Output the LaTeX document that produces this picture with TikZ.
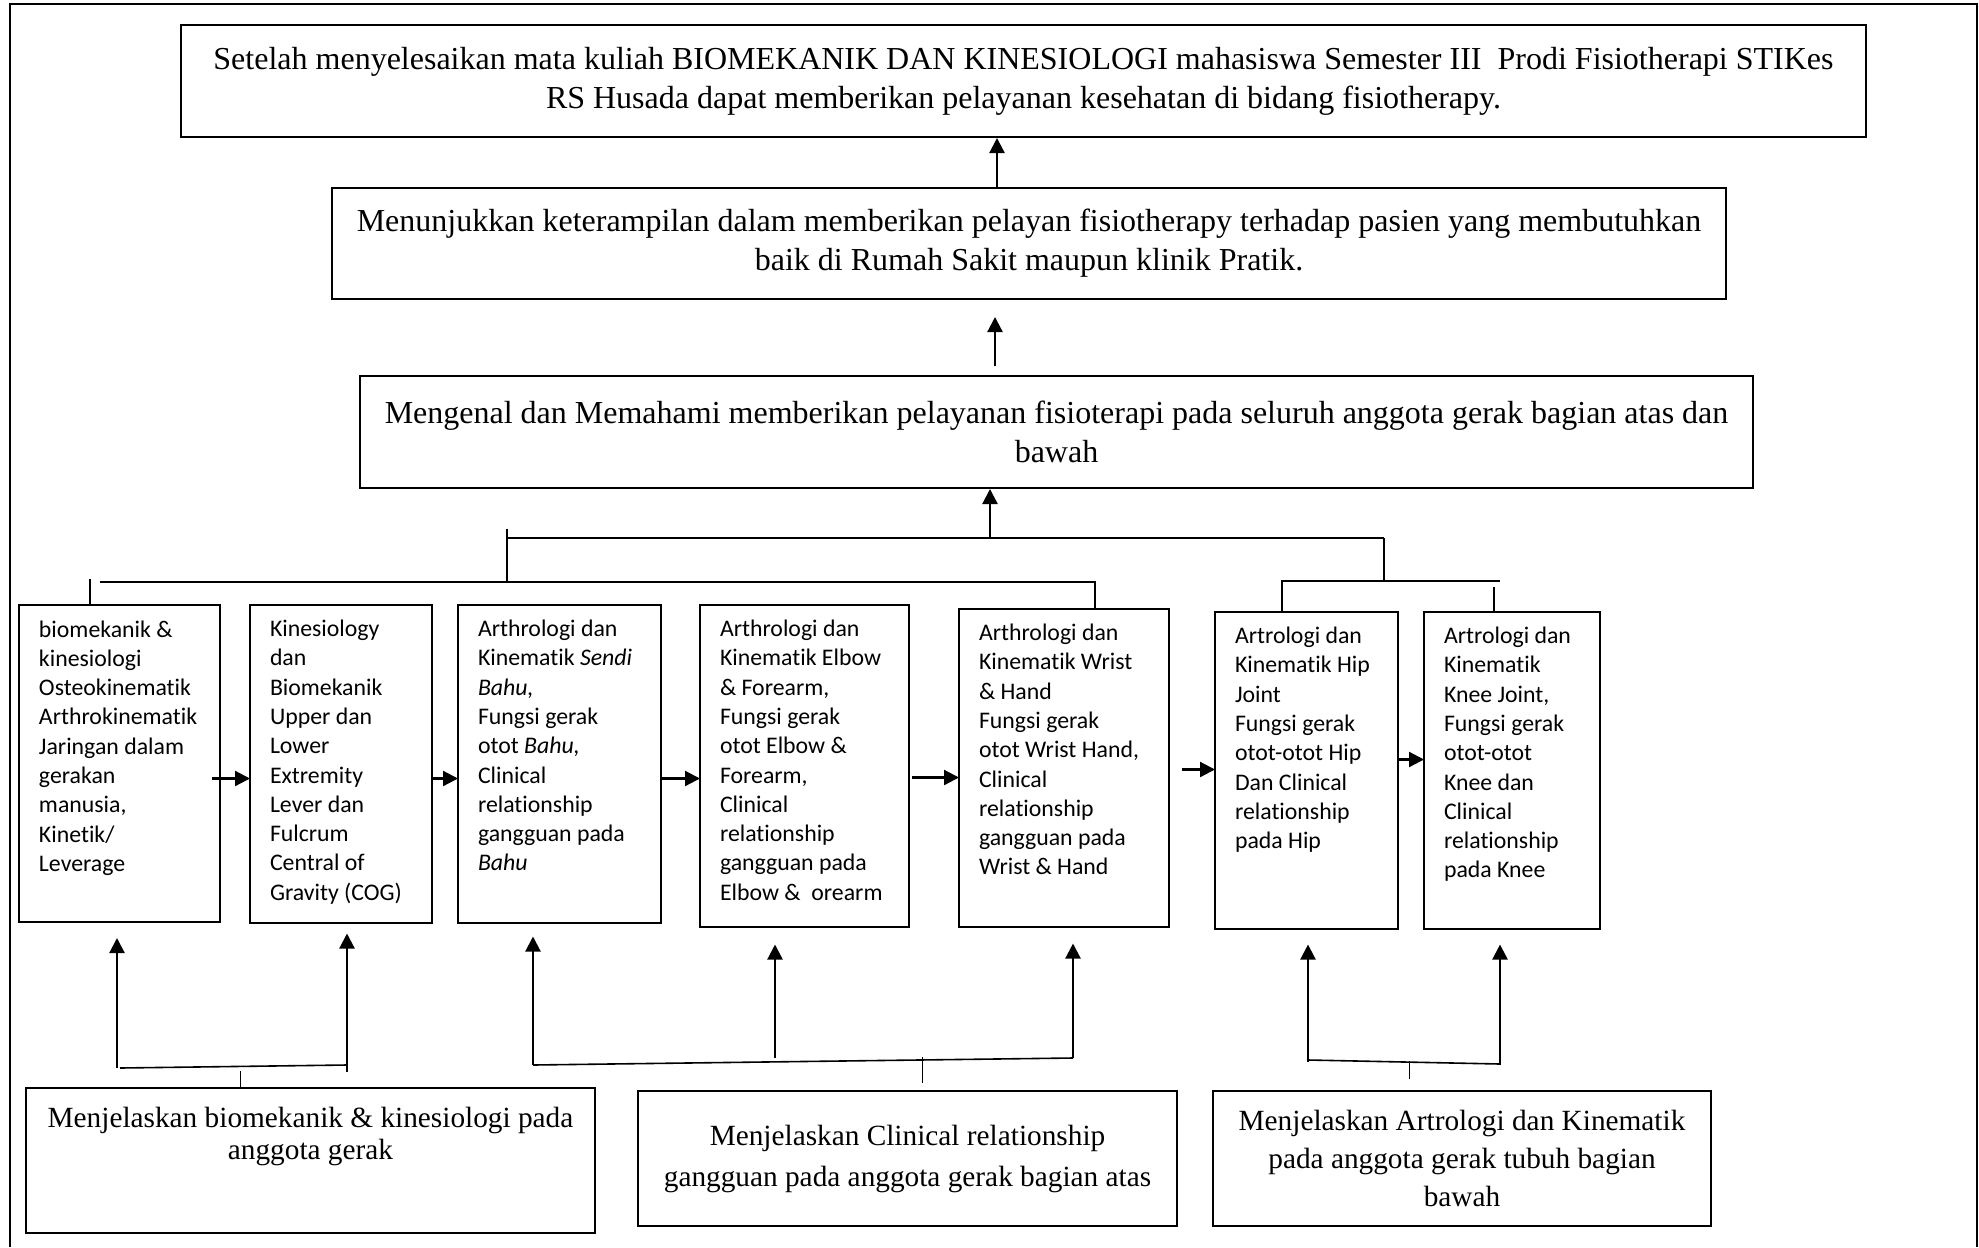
\documentclass[tikz,border=0pt]{standalone}
\usepackage{fontspec}
\setmainfont{Liberation Serif}
\newfontfamily\calibri[Ligatures=NoCommon]{Carlito}
\usepackage{tikz}
\usetikzlibrary{positioning, calc, arrows.meta}

\newcommand{\isimateri}[3]{\parbox[c][#1][t]{#2}{\raggedright\rule{0pt}{16pt}#3}}

\begin{document}
\begin{tikzpicture}[x=0.5pt, y=-0.5pt]

\tikzstyle{tujuan} = [draw, line width=1pt, inner sep=0pt, align=center, font=\fontsize{16}{19.5}\selectfont]
\tikzstyle{materi} = [draw, line width=1pt, outer sep=0pt, inner xsep=10pt, inner ysep=0pt, font=\calibri\fontsize{11.9}{14.65}\selectfont]
\tikzstyle{capaian} = [draw, line width=1pt, inner sep=0pt, align=center, font=\fontsize{14.65}{19}\selectfont]
\tikzstyle{arrow} = [line width=1.1pt, -{Triangle[length=7.5pt, width=7.5pt]}]
\tikzstyle{garis} = [line width=0.65pt]
\tikzstyle{kurung} = [line width=0.8pt]
\tikzstyle{tangkai} = [line width=0.5pt]

\useasboundingbox (0,0) rectangle (1979,1247);

% Bingkai halaman
\draw[line width=1.2pt] (10,1247) -- (10,4) -- (1977,4) -- (1977,1247);

% Kotak tujuan
\node (t1) [tujuan, minimum width=842.5pt, minimum height=56pt] at (1023.5,81) {Setelah menyelesaikan mata kuliah BIOMEKANIK DAN KINESIOLOGI mahasiswa Semester III \ Prodi Fisiotherapi STIKes\\RS Husada dapat memberikan pelayanan kesehatan di bidang fisiotherapy.};
\node (t2) [tujuan, minimum width=697pt, minimum height=55.5pt, below=24.5pt of t1, xshift=2.75pt] {Menunjukkan keterampilan dalam memberikan pelayan fisiotherapy terhadap pasien yang membutuhkan\\baik di Rumah Sakit maupun klinik Pratik.};
\node (t3) [tujuan, minimum width=696.5pt, minimum height=56pt, below=37.5pt of t2, xshift=13.75pt] {Mengenal dan Memahami memberikan pelayanan fisioterapi pada seluruh anggota gerak bagian atas dan\\bawah};

% Kotak materi
\node (b1) [materi, anchor=north west] at (19,605) {\isimateri{158.5pt}{80.5pt}{biomekanik \&\\kinesiologi\\Osteokinematik\\Arthrokinematik\\Jaringan dalam\\gerakan\\manusia,\\Kinetik/\\Leverage}};
\node (b2) [materi, right=15pt of b1] {\isimateri{159pt}{71pt}{Kinesiology\\dan\\Biomekanik\\Upper dan\\Lower\\Extremity\\Lever dan\\Fulcrum\\Central of\\Gravity (COG)}};
\node (b3) [materi, right=13pt of b2] {\isimateri{159pt}{81.5pt}{Arthrologi dan\\Kinematik \textit{Sendi}\\\textit{Bahu,}\\Fungsi gerak\\otot \textit{Bahu,}\\Clinical\\relationship\\gangguan pada\\\textit{Bahu}}};
\node (b4) [materi, right=19.5pt of b3, yshift=-1pt] {\isimateri{161pt}{84.5pt}{Arthrologi dan\\Kinematik Elbow\\\& Forearm,\\Fungsi gerak\\otot Elbow \&\\Forearm,\\Clinical\\relationship\\gangguan pada\\Elbow \& \ orearm}};
\node (b5) [materi, right=25pt of b4, yshift=-1pt] {\isimateri{159pt}{85pt}{Arthrologi dan\\Kinematik Wrist\\\& Hand\\Fungsi gerak\\otot Wrist Hand,\\Clinical\\relationship\\gangguan pada\\Wrist \& Hand}};
\node (b6) [materi, right=23pt of b5, yshift=-1.25pt] {\isimateri{158.5pt}{71.5pt}{Artrologi dan\\Kinematik Hip\\Joint\\Fungsi gerak\\otot-otot Hip\\Dan Clinical\\relationship\\pada Hip}};
\node (b7) [materi, right=13pt of b6] {\isimateri{158.5pt}{68pt}{Artrologi dan\\Kinematik\\Knee Joint,\\Fungsi gerak\\otot-otot\\Knee dan\\Clinical\\relationship\\pada Knee}};

% Kotak capaian
\node (ca) [capaian, minimum width=284.5pt, minimum height=72.5pt, font=\fontsize{14.65}{16}\selectfont] at (310.5,1160.5) {\parbox[c][72.5pt][t]{280pt}{\centering\rule{0pt}{19.5pt}Menjelaskan biomekanik \& kinesiologi pada\\anggota gerak}};
\node (cb) [capaian, minimum width=269.5pt, minimum height=67.5pt, font=\fontsize{14.65}{20.5}\selectfont, right=20.5pt of ca, yshift=1pt] {Menjelaskan Clinical relationship\\gangguan pada anggota gerak bagian atas};
\node (cc) [capaian, minimum width=249pt, minimum height=67.5pt, right=17pt of cb] {Menjelaskan Artrologi dan Kinematik\\pada anggota gerak tubuh bagian\\bawah};

% Panah antar tujuan
\draw[arrow] ([xshift=-16pt]t2.north) -- ([xshift=-16pt]t2.north |- t1.south);
\draw[arrow, shorten <=4.5pt, shorten >=8.5pt] ([xshift=-30.75pt]t3.north) -- ([xshift=-30.75pt]t3.north |- t2.south);

% Cabang ke kotak materi
\coordinate (j1) at (990,538);
\coordinate (kiri) at (507,538);
\coordinate (kanan) at (1384,538);
\coordinate (c1) at (100,582);
\coordinate (c2) at (1095,582);
\coordinate (c3) at (1282,581);
\coordinate (c4) at (1500,581);
\coordinate (s1) at (90,579);
\coordinate (s2) at (1494,587);
\draw[arrow] (j1) -- (j1 |- t3.south);
\draw[garis] (kiri) -- (kanan);
\draw[garis] ([yshift=4.5pt]kiri) -- (kiri |- c1);
\draw[garis] (c1) -- (c2) -- (c2 |- b5.north);
\draw[garis] (s1) -- (s1 |- b1.north);
\draw[garis] (kanan) -- (kanan |- c3);
\draw[garis] (c4) -- (c3) -- (c3 |- b6.north);
\draw[garis] (s2) -- (s2 |- b7.north);

% Panah antar materi
\draw[arrow] ($(b1.east)+(-8,15)$) -- ($(b2.west)+(0,15)$);
\draw[arrow] ($(b2.east)+(0,15)$) -- ($(b3.west)+(0,15)$);
\draw[arrow] ($(b3.east)+(0,15)$) -- ($(b4.west)+(0,13)$);
\draw[arrow] ($(b4.east)+(3,12)$) -- ($(b5.west)+(0,10)$);
\draw[arrow] ($(b5.east)+(13,2)$) -- ($(b6.west)+(0,-0.5)$);
\draw[arrow] ($(b6.east)+(0,-10.5)$) -- ($(b7.west)+(0,-10.5)$);

% Kelompok A
\coordinate (a1) at (117,1068);
\coordinate (a2) at (347,1072);
\coordinate (ta) at (240,1071);
\draw[arrow, shorten >=8pt] (a1) -- (a1 |- b1.south);
\draw[arrow, shorten >=5.5pt] (a2) -- (a2 |- b2.south);
\draw[kurung] ($(a1)+(3,0)$) -- ($(a2)+(0,-7)$);
\draw[tangkai] (ta) -- (ta |- ca.north);

% Kelompok B
\coordinate (p1) at (533,1065);
\coordinate (p2) at (775,1058);
\coordinate (p3) at (1073,1058);
\coordinate (tb) at (922,1057);
\draw[arrow, shorten >=7pt] (p1) -- (p1 |- b3.south);
\draw[arrow, shorten >=9pt] (p2) -- (p2 |- b4.south);
\draw[arrow, shorten >=8.5pt] (p3) -- (p3 |- b5.south);
\draw[kurung] (p1) -- (p3);
\draw[tangkai, shorten >=3.5pt] (tb) -- (tb |- cb.north);

% Kelompok C
\coordinate (q1) at (1308,1062);
\coordinate (q2) at (1500,1065);
\coordinate (tc) at (1409,1061);
\draw[arrow, shorten >=8pt] (q1) -- (q1 |- b6.south);
\draw[arrow, shorten >=8pt] (q2) -- (q2 |- b7.south);
\draw[kurung] ($(q1)+(0,-2)$) -- ($(q2)+(0,-1)$);
\draw[tangkai, shorten >=5.5pt] (tc) -- (tc |- cc.north);

\end{tikzpicture}
\end{document}
